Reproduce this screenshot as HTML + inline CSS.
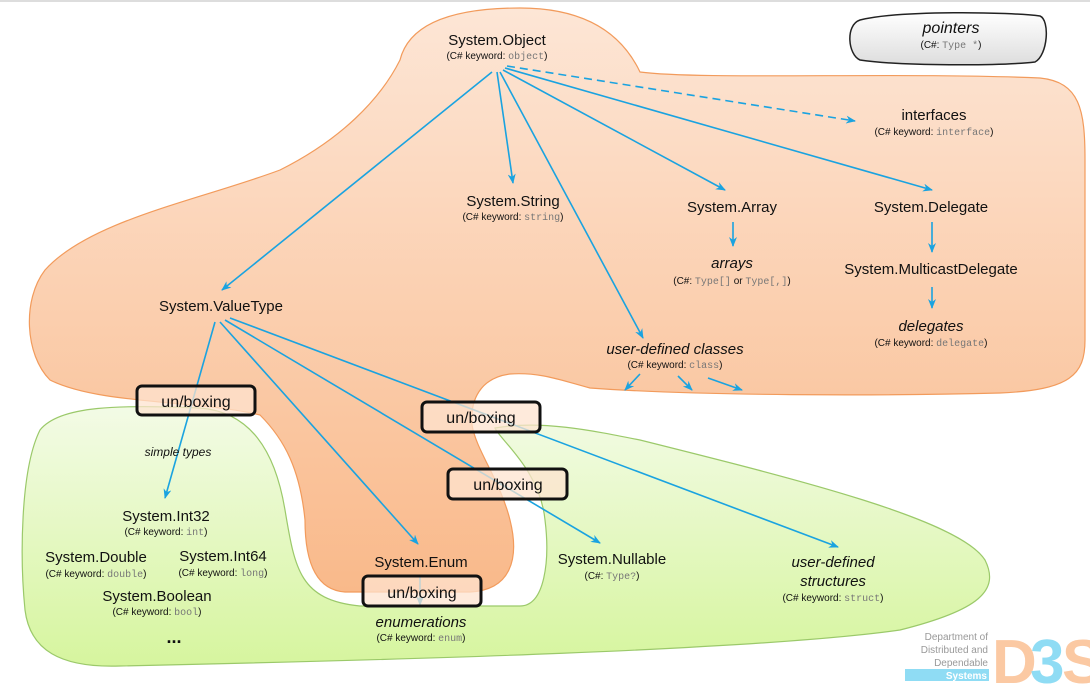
<!DOCTYPE html>
<html><head><meta charset="utf-8"><style>
body{margin:0;background:#fff}
svg text{font-family:"Liberation Sans",sans-serif;fill:#111}
.m{font-family:"Liberation Mono",monospace;fill:#777}
</style></head><body>
<svg width="1090" height="686" viewBox="0 0 1090 686" xmlns="http://www.w3.org/2000/svg">
<defs>
<linearGradient id="og" x1="0" y1="0" x2="0" y2="1"><stop offset="0" stop-color="#fde6d6"/><stop offset="1" stop-color="#f9b98a"/></linearGradient>
<linearGradient id="gg" x1="0" y1="0" x2="0" y2="1"><stop offset="0" stop-color="#f3fbe6"/><stop offset="1" stop-color="#d6f59e"/></linearGradient>
<linearGradient id="pg" x1="0" y1="0" x2="0" y2="1"><stop offset="0" stop-color="#fff"/><stop offset="1" stop-color="#ddd"/></linearGradient>
<marker id="a" markerWidth="10" markerHeight="8" refX="9" refY="4" orient="auto" markerUnits="userSpaceOnUse"><path d="M0,0 L10,4 L0,8 L3,4z" fill="#1aa3e0"/></marker>
</defs>
<line x1="0" y1="1" x2="1090" y2="1" stroke="#ddd" stroke-width="2"/>
<!-- green -->
<path d="M40,430 C60,405 120,405 200,408 C250,412 275,450 285,510 C295,570 300,600 360,606 L520,606 C545,606 550,560 545,520 C540,470 500,440 495,428 C540,420 590,430 640,440 C800,480 960,520 985,560 C1000,590 980,610 900,630 C760,650 400,660 120,666 C60,668 30,650 25,610 C20,560 20,470 40,430 Z" fill="url(#gg)" stroke="#9bc96a" stroke-width="1.2"/>
<!-- orange -->
<path d="M400,60 C410,20 460,8 520,8 C580,8 620,30 640,72 C700,80 900,72 1040,78 C1080,82 1085,110 1085,160 L1085,340 C1085,375 1070,390 1000,393 C880,396 700,396 590,388 C560,380 540,372 510,374 C480,378 470,400 472,425 C476,450 500,480 510,520 C520,560 510,590 470,592 L345,592 C315,590 305,560 305,520 C300,470 285,440 260,415 C200,400 100,405 50,380 C25,355 22,300 45,270 C90,220 200,200 280,170 C340,140 380,100 400,60 Z" fill="url(#og)" stroke="#f29b5c" stroke-width="1.2"/>
<!-- pointers -->
<path d="M860,20 C900,10 1010,12 1040,16 C1050,20 1048,55 1035,62 C1000,66 900,66 860,60 C848,55 845,25 860,20 Z" fill="url(#pg)" stroke="#222" stroke-width="1.5"/>
<text x="951" y="33" font-size="16" font-style="italic" text-anchor="middle">pointers</text>
<text x="951" y="48" font-size="10" text-anchor="middle">(C#: <tspan class="m">Type *</tspan>)</text>
<!-- arrows -->
<g stroke="#1aa3e0" stroke-width="1.6" fill="none" marker-end="url(#a)">
<line x1="492" y1="72" x2="222" y2="290"/>
<line x1="497" y1="72" x2="513" y2="183"/>
<line x1="500" y1="72" x2="643" y2="338"/>
<line x1="503" y1="70" x2="725" y2="190"/>
<line x1="505" y1="68" x2="932" y2="190"/>
<line x1="507" y1="66" x2="855" y2="121" stroke-dasharray="8,5"/>
<line x1="733" y1="222" x2="733" y2="246"/>
<line x1="932" y1="222" x2="932" y2="252"/>
<line x1="932" y1="287" x2="932" y2="308"/>
<line x1="640" y1="374" x2="625" y2="390"/>
<line x1="678" y1="376" x2="692" y2="390"/>
<line x1="708" y1="378" x2="742" y2="390"/>
<line x1="215" y1="322" x2="165" y2="498"/>
<line x1="220" y1="322" x2="418" y2="544"/>
<line x1="225" y1="320" x2="600" y2="543"/>
<line x1="230" y1="318" x2="838" y2="547"/>
<line x1="420" y1="576" x2="420" y2="605"/>
</g>
<!-- boxes -->
<g fill="#fde3cf" fill-opacity="0.75" stroke="#111" stroke-width="3">
<rect x="137" y="386" width="118" height="29" rx="5"/>
<rect x="422" y="402" width="118" height="30" rx="5"/>
<rect x="448" y="469" width="119" height="30" rx="5"/>
<rect x="363" y="576" width="118" height="30" rx="5"/>
</g>
<g font-size="16" text-anchor="middle">
<text x="196" y="407">un/boxing</text>
<text x="481" y="423">un/boxing</text>
<text x="508" y="490">un/boxing</text>
<text x="422" y="598">un/boxing</text>
</g>
<!-- labels -->
<g text-anchor="middle">
<text x="497" y="45" font-size="15">System.Object</text>
<text x="497" y="59" font-size="10">(C# keyword: <tspan class="m">object</tspan>)</text>
<text x="934" y="120" font-size="15">interfaces</text>
<text x="934" y="135" font-size="10">(C# keyword: <tspan class="m">interface</tspan>)</text>
<text x="513" y="206" font-size="15">System.String</text>
<text x="513" y="220" font-size="10">(C# keyword: <tspan class="m">string</tspan>)</text>
<text x="732" y="212" font-size="15">System.Array</text>
<text x="732" y="268" font-size="15" font-style="italic">arrays</text>
<text x="732" y="284" font-size="10">(C#: <tspan class="m">Type[]</tspan> or <tspan class="m">Type[,]</tspan>)</text>
<text x="931" y="212" font-size="15">System.Delegate</text>
<text x="931" y="274" font-size="15">System.MulticastDelegate</text>
<text x="931" y="331" font-size="15" font-style="italic">delegates</text>
<text x="931" y="346" font-size="10">(C# keyword: <tspan class="m">delegate</tspan>)</text>
<text x="675" y="354" font-size="15" font-style="italic">user-defined classes</text>
<text x="675" y="368" font-size="10">(C# keyword: <tspan class="m">class</tspan>)</text>
<text x="221" y="311" font-size="15">System.ValueType</text>
<text x="178" y="456" font-size="12" font-style="italic">simple types</text>
<text x="166" y="521" font-size="15">System.Int32</text>
<text x="166" y="535" font-size="10">(C# keyword: <tspan class="m">int</tspan>)</text>
<text x="96" y="562" font-size="15">System.Double</text>
<text x="96" y="577" font-size="10">(C# keyword: <tspan class="m">double</tspan>)</text>
<text x="223" y="561" font-size="15">System.Int64</text>
<text x="223" y="576" font-size="10">(C# keyword: <tspan class="m">long</tspan>)</text>
<text x="157" y="601" font-size="15">System.Boolean</text>
<text x="157" y="615" font-size="10">(C# keyword: <tspan class="m">bool</tspan>)</text>
<text x="174" y="643" font-size="18" font-weight="bold">...</text>
<text x="421" y="567" font-size="15">System.Enum</text>
<text x="421" y="627" font-size="15" font-style="italic">enumerations</text>
<text x="421" y="641" font-size="10">(C# keyword: <tspan class="m">enum</tspan>)</text>
<text x="612" y="564" font-size="15">System.Nullable</text>
<text x="612" y="579" font-size="10">(C#: <tspan class="m">Type?</tspan>)</text>
<text x="833" y="567" font-size="15" font-style="italic">user-defined</text>
<text x="833" y="586" font-size="15" font-style="italic">structures</text>
<text x="833" y="601" font-size="10">(C# keyword: <tspan class="m">struct</tspan>)</text>
</g>
<!-- logo -->
<g font-size="10" text-anchor="end" fill="#999">
<text x="988" y="640" style="fill:#999">Department of</text>
<text x="988" y="653" style="fill:#999">Distributed and</text>
<text x="988" y="666" style="fill:#999">Dependable</text>
</g>
<rect x="905" y="669" width="84" height="12" fill="#8fdcf4"/>
<text x="987" y="679" font-size="10" text-anchor="end" style="fill:#fff;font-weight:bold">Systems</text>
<text x="992" y="683" font-size="62" font-weight="bold" style="fill:#fbc9a3">D</text>
<text x="1030" y="683" font-size="62" font-weight="bold" style="fill:#8fdcf4">3</text>
<text x="1062" y="683" font-size="62" font-weight="bold" style="fill:#fbc9a3">S</text>
</svg>
</body></html>
